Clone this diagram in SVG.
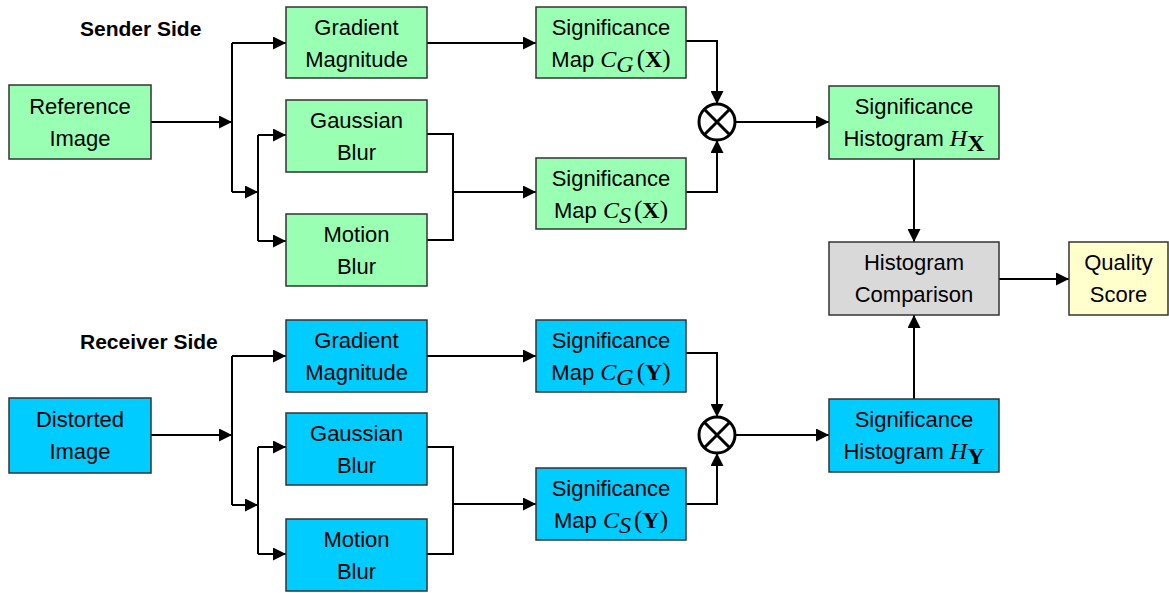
<svg xmlns="http://www.w3.org/2000/svg" width="1169" height="593" viewBox="0 0 1169 593">
<style>
.g{fill:#99ffb3;stroke:#333;stroke-width:1.5}
.b{fill:#00ccff;stroke:#333;stroke-width:1.5}
.gr{fill:#d9d9d9;stroke:#333;stroke-width:1.5}
.y{fill:#ffffcc;stroke:#333;stroke-width:1.5}
text{font-family:"Liberation Sans",Arial,sans-serif;font-size:22px;fill:#000;text-anchor:middle}
.h{font-weight:bold;font-size:21px;text-anchor:start}
.m{font-family:"Liberation Serif","Times New Roman",serif;font-style:italic;font-size:24px}
.mb{font-family:"Liberation Serif","Times New Roman",serif;font-weight:bold;font-size:24px}
.mp{font-family:"Liberation Serif","Times New Roman",serif;font-size:25px}
.c{fill:none;stroke:#000;stroke-width:2}
.op{fill:#fff;stroke:#000;stroke-width:3}
</style>
<defs>
<marker id="a" markerUnits="userSpaceOnUse" markerWidth="13" markerHeight="13" viewBox="0 0 10 10" refX="10" refY="5" orient="auto">
<path d="M0,0 L10,5 L0,10 z" fill="#000"/>
</marker>
</defs>
<text class="h" x="80" y="36">Sender Side</text>
<text class="h" x="80" y="349">Receiver Side</text>
<g id="connectors">
<path class="c" d="M151,122 H232" marker-end="url(#a)"/>
<path class="c" d="M232,43 V192"/>
<path class="c" d="M232,43 H286" marker-end="url(#a)"/>
<path class="c" d="M232,192 H258" marker-end="url(#a)"/>
<path class="c" d="M258,135 V241"/>
<path class="c" d="M258,135 H286" marker-end="url(#a)"/>
<path class="c" d="M258,241 H286" marker-end="url(#a)"/>
<path class="c" d="M427,43 H536" marker-end="url(#a)"/>
<path class="c" d="M427,134 H453 V240 H427"/>
<path class="c" d="M453,192 H536" marker-end="url(#a)"/>
<path class="c" d="M686,41 H717 V104" marker-end="url(#a)"/>
<path class="c" d="M686,192 H717 V140" marker-end="url(#a)"/>
<path class="c" d="M735,122 H829" marker-end="url(#a)"/>
<path class="c" d="M914,159 V242" marker-end="url(#a)"/>
<path class="c" d="M999,279 H1069" marker-end="url(#a)"/>
<path class="c" d="M914,399 V315" marker-end="url(#a)"/>
<path class="c" d="M151,435 H232" marker-end="url(#a)"/>
<path class="c" d="M232,356 V505"/>
<path class="c" d="M232,356 H286" marker-end="url(#a)"/>
<path class="c" d="M232,505 H258" marker-end="url(#a)"/>
<path class="c" d="M258,447 V554"/>
<path class="c" d="M258,447 H286" marker-end="url(#a)"/>
<path class="c" d="M258,554 H286" marker-end="url(#a)"/>
<path class="c" d="M427,356 H536" marker-end="url(#a)"/>
<path class="c" d="M427,447 H453 V554 H427"/>
<path class="c" d="M453,504 H536" marker-end="url(#a)"/>
<path class="c" d="M686,353 H717 V417" marker-end="url(#a)"/>
<path class="c" d="M686,504 H717 V453" marker-end="url(#a)"/>
<path class="c" d="M735,435 H829" marker-end="url(#a)"/>
</g>
<g id="ref"><rect class="g" x="9" y="85" width="142" height="74"/><text x="80" y="114">Reference</text><text x="80" y="146">Image</text></g>
<g id="gradX"><rect class="g" x="286" y="7" width="141" height="71"/><text x="356.5" y="35">Gradient</text><text x="356.5" y="67">Magnitude</text></g>
<g id="gaussX"><rect class="g" x="286" y="100" width="141" height="72"/><text x="356.5" y="128">Gaussian</text><text x="356.5" y="160">Blur</text></g>
<g id="motionX"><rect class="g" x="286" y="214" width="141" height="72"/><text x="356.5" y="242">Motion</text><text x="356.5" y="274">Blur</text></g>
<g id="cgX"><rect class="g" x="536" y="7" width="150" height="71"/><text x="611" y="35">Significance</text><text x="611" y="67">Map <tspan class="m">C</tspan><tspan class="m" font-size="16" dy="5">G</tspan><tspan class="mp" dx="3" dy="-5">(</tspan><tspan class="mb">X</tspan><tspan class="mp">)</tspan></text></g>
<g id="csX"><rect class="g" x="536" y="158" width="150" height="71"/><text x="611" y="186">Significance</text><text x="611" y="218">Map <tspan class="m">C</tspan><tspan class="m" font-size="16" dy="5">S</tspan><tspan class="mp" dx="3" dy="-5">(</tspan><tspan class="mb">X</tspan><tspan class="mp">)</tspan></text></g>
<g id="mulX"><circle class="op" cx="717" cy="122" r="18"/><path d="M704.3,109.3 L729.7,134.7 M729.7,109.3 L704.3,134.7" stroke="#000" stroke-width="3"/></g>
<g id="hX"><rect class="g" x="829" y="86" width="170" height="73"/><text x="914" y="114">Significance</text><text x="914" y="146">Histogram <tspan class="m">H</tspan><tspan class="mb" font-size="16" dy="5">X</tspan></text></g>
<g id="cmp"><rect class="gr" x="829" y="242" width="170" height="73"/><text x="914" y="270">Histogram</text><text x="914" y="302">Comparison</text></g>
<g id="qs"><rect class="y" x="1069" y="242" width="99" height="73"/><text x="1118.5" y="270">Quality</text><text x="1118.5" y="302">Score</text></g>
<g id="dist"><rect class="b" x="9" y="398" width="142" height="75"/><text x="80" y="427">Distorted</text><text x="80" y="459">Image</text></g>
<g id="gradY"><rect class="b" x="286" y="320" width="141" height="72"/><text x="356.5" y="348">Gradient</text><text x="356.5" y="380">Magnitude</text></g>
<g id="gaussY"><rect class="b" x="286" y="413" width="141" height="72"/><text x="356.5" y="441">Gaussian</text><text x="356.5" y="473">Blur</text></g>
<g id="motionY"><rect class="b" x="286" y="519" width="141" height="72"/><text x="356.5" y="547">Motion</text><text x="356.5" y="579">Blur</text></g>
<g id="cgY"><rect class="b" x="536" y="320" width="150" height="72"/><text x="611" y="348">Significance</text><text x="611" y="380">Map <tspan class="m">C</tspan><tspan class="m" font-size="16" dy="5">G</tspan><tspan class="mp" dx="3" dy="-5">(</tspan><tspan class="mb">Y</tspan><tspan class="mp">)</tspan></text></g>
<g id="csY"><rect class="b" x="536" y="468" width="150" height="72"/><text x="611" y="496">Significance</text><text x="611" y="528">Map <tspan class="m">C</tspan><tspan class="m" font-size="16" dy="5">S</tspan><tspan class="mp" dx="3" dy="-5">(</tspan><tspan class="mb">Y</tspan><tspan class="mp">)</tspan></text></g>
<g id="mulY"><circle class="op" cx="717" cy="435" r="18"/><path d="M704.3,422.3 L729.7,447.7 M729.7,422.3 L704.3,447.7" stroke="#000" stroke-width="3"/></g>
<g id="hY"><rect class="b" x="829" y="399" width="170" height="73"/><text x="914" y="427">Significance</text><text x="914" y="459">Histogram <tspan class="m">H</tspan><tspan class="mb" font-size="16" dy="5">Y</tspan></text></g>
</svg>
